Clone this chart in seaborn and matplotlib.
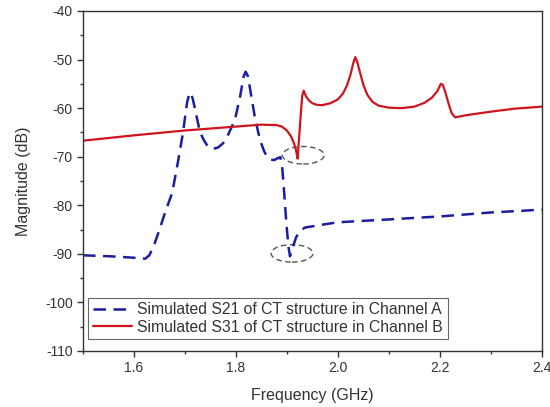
import pandas as pd
import matplotlib
matplotlib.use('Agg')
import matplotlib.pyplot as plt
from matplotlib.patches import Ellipse
from matplotlib.ticker import MultipleLocator
import seaborn as sns

# S21 (Channel A)
freq_s21 = [1.500, 1.553, 1.600, 1.622, 1.630, 1.640, 1.650, 1.660, 1.675, 1.686,
            1.696, 1.704, 1.708, 1.711, 1.715, 1.720, 1.729, 1.737, 1.745, 1.755,
            1.765, 1.775, 1.785, 1.798, 1.808, 1.815, 1.819, 1.823, 1.827, 1.837,
            1.847, 1.855, 1.861, 1.868, 1.875, 1.882, 1.887, 1.891, 1.894, 1.897,
            1.900, 1.903, 1.906, 1.912, 1.918, 1.925, 1.935, 1.969, 2.000, 2.102,
            2.200, 2.298, 2.400]
mag_s21 = [-90.3, -90.5, -90.8, -91.0, -90.3, -88.0, -85.0, -81.8, -77.4, -71.2,
           -65.1, -58.9, -57.2, -56.8, -58.0, -60.3, -64.8, -66.6, -67.9, -68.4,
           -68.1, -67.2, -65.4, -62.4, -57.7, -53.5, -52.5, -53.3, -55.6, -61.8,
           -66.5, -68.8, -70.0, -70.6, -70.7, -70.3, -70.1, -72.5, -76.5, -81.0,
           -85.0, -88.5, -90.5, -88.5, -86.6, -85.4, -84.6, -84.0, -83.5, -82.9,
           -82.3, -81.5, -80.9]

# S31 (Channel B)
freq_s31 = [1.500, 1.600, 1.700, 1.800, 1.850, 1.880, 1.890, 1.900, 1.908, 1.914,
            1.918, 1.921, 1.924, 1.927, 1.930, 1.933, 1.937, 1.943, 1.950, 1.958,
            1.969, 1.985, 2.000, 2.010, 2.018, 2.025, 2.030, 2.034, 2.038, 2.043,
            2.050, 2.058, 2.068, 2.080, 2.100, 2.125, 2.150, 2.170, 2.185, 2.195,
            2.202, 2.206, 2.211, 2.217, 2.223, 2.230, 2.240, 2.255, 2.302, 2.347,
            2.400]
mag_s31 = [-66.7, -65.6, -64.6, -63.8, -63.4, -63.5, -63.8, -64.6, -65.8, -67.3,
           -68.7, -70.4, -66.0, -61.5, -57.5, -56.4, -57.5, -58.4, -59.0, -59.3,
           -59.4, -59.0, -58.2, -57.0, -55.3, -53.0, -50.8, -49.5, -50.5, -52.5,
           -55.2, -57.3, -58.7, -59.5, -59.9, -60.0, -59.7, -58.9, -57.8, -56.5,
           -55.0, -55.2, -56.8, -59.0, -61.0, -61.9, -61.7, -61.4, -60.7, -60.1,
           -59.7]

lbl_a = 'Simulated S21 of CT structure in Channel A'
lbl_b = 'Simulated S31 of CT structure in Channel B'

df_a = pd.DataFrame({'f': freq_s21, 'm': mag_s21})
df_b = pd.DataFrame({'f': freq_s31, 'm': mag_s31})

sns.set_style('ticks')
plt.rcParams['font.family'] = ['Liberation Sans', 'DejaVu Sans']
plt.rcParams['axes.unicode_minus'] = False

fig = plt.figure(figsize=(5.5, 4.07), dpi=100)
ax = fig.add_axes([0.151, 0.1376, 0.834, 0.8354])

sns.lineplot(x='f', y='m', data=df_a, ax=ax, color='#1c1ca0', lw=1.8,
             linestyle=(0, (5, 3)), label=lbl_a, sort=False)
sns.lineplot(x='f', y='m', data=df_b, ax=ax, color='#d0141e', lw=1.6,
             label=lbl_b, sort=False)

# dashed circles around the dips
for cx, cy in [(1.932, -69.7), (1.910, -89.9)]:
    ax.add_patch(Ellipse((cx, cy), 0.082, 3.6, fill=False, ec='#555555',
                         lw=1.0, ls=(0, (4, 2.5))))

ax.set_xlim(1.5, 2.4)
ax.set_ylim(-110, -40)
ax.xaxis.set_major_locator(MultipleLocator(0.2))
ax.xaxis.set_minor_locator(MultipleLocator(0.1))
ax.yaxis.set_major_locator(MultipleLocator(10))
ax.yaxis.set_minor_locator(MultipleLocator(5))
ax.tick_params(which='major', direction='out', length=4, width=1, labelsize=10,
               colors='#333333', labelcolor='#333333')
ax.tick_params(which='minor', direction='out', length=2.5, width=1, colors='#333333')
for s in ax.spines.values():
    s.set_color('#333333')
    s.set_linewidth(1)

ax.set_xlabel('Frequency (GHz)', fontsize=11.5, color='#333333', labelpad=9)
ax.set_ylabel('Magnitude (dB)', fontsize=11.5, color='#333333', labelpad=10)

leg = ax.legend(loc='lower left', bbox_to_anchor=(0.005, 0.025), fontsize=11.3,
                frameon=True, fancybox=False, framealpha=1, edgecolor='#666666',
                handlelength=2.5, handletextpad=0.3, borderpad=0.3,
                labelspacing=0.15, borderaxespad=0.2)
leg.get_frame().set_linewidth(0.8)
for t in leg.get_texts():
    t.set_color('#333333')

fig.savefig('out.png', dpi=100)
plt.close(fig)
